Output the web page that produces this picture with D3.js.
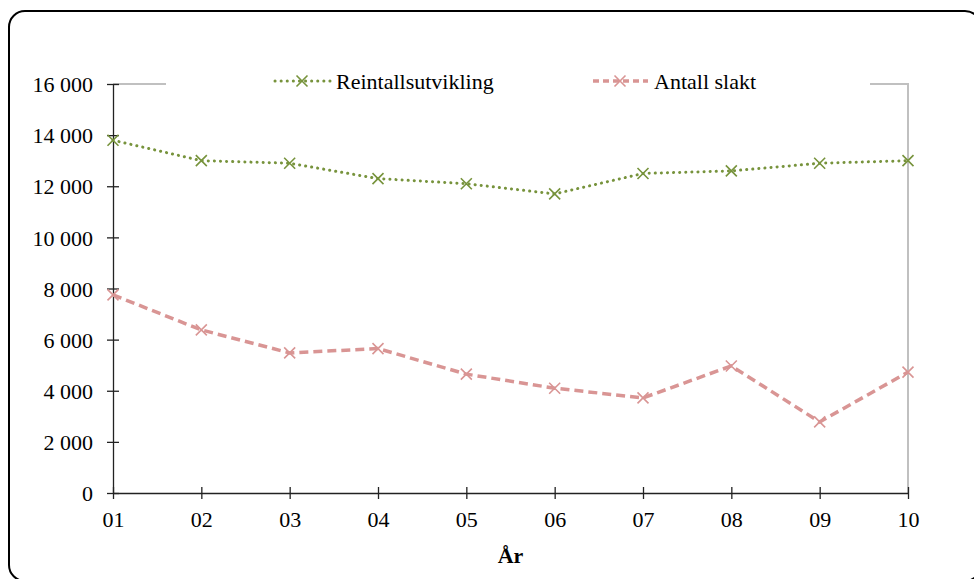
<!DOCTYPE html>
<html>
<head>
<meta charset="utf-8">
<script src="https://cdn.jsdelivr.net/npm/d3@7"></script>
<style>
  body { margin: 0; background: #fff; }
  svg text { font-family: "Liberation Serif", "Times New Roman", serif; fill: #000; }
</style>
</head>
<body>
<svg class="chart" width="974" height="579"></svg>
<script>
const years = ["01", "02", "03", "04", "05", "06", "07", "08", "09", "10"];
const reintall = [13800, 13000, 12900, 12300, 12100, 11700, 12500, 12600, 12900, 13000];
const slakt = [7750, 6380, 5480, 5650, 4650, 4100, 3720, 4970, 2780, 4730];
const yTicks = [0, 2000, 4000, 6000, 8000, 10000, 12000, 14000, 16000];
const seriesNames = ["Reintallsutvikling", "Antall slakt"];

const margin = { top: 84, right: 66, bottom: 86, left: 113 };
const width = 974 - margin.left - margin.right;
const height = 579 - margin.top - margin.bottom;

const svgRoot = d3.select("svg.chart");

// outer rounded frame
svgRoot.append("rect")
  .attr("x", 9).attr("y", 11)
  .attr("width", 972).attr("height", 570)
  .attr("rx", 16)
  .attr("fill", "none")
  .attr("stroke", "#000")
  .attr("stroke-width", 2);

const svg = svgRoot.append("g")
  .attr("transform", "translate(" + margin.left + "," + margin.top + ")");

const x = d3.scalePoint().domain(years).range([0, width]);
const y = d3.scaleLinear().domain([0, 16000]).range([height, 0]);

const fmt = d => d3.format(",")(d).replace(/,/g, " ");

// gray plot frame (top + right)
svg.append("path")
  .attr("d", "M0,0H" + width + "V" + height)
  .attr("fill", "none")
  .attr("stroke", "#c0c0c0")
  .attr("stroke-width", 2);

// y axis
const yAxis = svg.append("g")
  .call(d3.axisLeft(y).tickValues(yTicks).tickFormat(fmt).tickSizeInner(6).tickSizeOuter(0).tickPadding(14));
yAxis.selectAll(".tick line").attr("x2", 6).attr("x1", -6);
yAxis.select(".domain").attr("stroke", "#222").attr("stroke-width", 1.3);
yAxis.selectAll(".tick line").attr("stroke", "#222").attr("stroke-width", 1.3);
yAxis.selectAll("text").style("font-size", "22px").attr("dy", "0.35em");

// x axis
const xAxis = svg.append("g")
  .attr("transform", "translate(0," + height + ")")
  .call(d3.axisBottom(x).tickSizeInner(6).tickSizeOuter(0).tickPadding(12));
xAxis.selectAll(".tick line").attr("y1", -6).attr("y2", 6);
xAxis.select(".domain").attr("stroke", "#222").attr("stroke-width", 1.3);
xAxis.selectAll(".tick line").attr("stroke", "#222").attr("stroke-width", 1.3);
xAxis.selectAll("text").style("font-size", "22px");

svg.append("text")
  .attr("x", x("05") + (x("06") - x("05")) / 2)
  .attr("y", height + 70)
  .attr("text-anchor", "middle")
  .style("font-size", "22px")
  .style("font-weight", "bold")
  .text("År");

const line = d3.line()
  .x((d, i) => x(years[i]))
  .y(d => y(d));

function cross(g, cx, cy, color) {
  const s = 5.5;
  g.append("path")
    .attr("d", `M${cx - s},${cy - s}L${cx + s},${cy + s}M${cx - s},${cy + s}L${cx + s},${cy - s}`)
    .attr("stroke", color)
    .attr("stroke-width", 1.6)
    .attr("fill", "none");
}

const series = [
  { name: seriesNames[0], values: reintall, color: "#77933c", dash: "0.1 6", width: 3, cap: "round" },
  { name: seriesNames[1], values: slakt, color: "#d99594", dash: "9 5", width: 3.5, cap: "butt" }
];

series.forEach(s => {
  svg.append("path")
    .datum(s.values)
    .attr("d", line)
    .attr("fill", "none")
    .attr("stroke", s.color)
    .attr("stroke-width", s.width)
    .attr("stroke-dasharray", s.dash)
    .attr("stroke-linecap", s.cap);
  s.values.forEach((v, i) => cross(svg, x(years[i]), y(v), s.color));
});

// legend (white background hides the gray top line)
const legend = svgRoot.append("g");
legend.append("rect")
  .attr("x", 166).attr("y", 66).attr("width", 704).attr("height", 34)
  .attr("fill", "#fff");

const legendPos = [275, 593];
const legendDash = ["0.1 6", "6 4"];
series.forEach((s, i) => {
  const lx = legendPos[i], ly = 81;
  legend.append("line")
    .attr("x1", lx).attr("x2", lx + 55)
    .attr("y1", ly).attr("y2", ly)
    .attr("stroke", s.color)
    .attr("stroke-width", s.width)
    .attr("stroke-dasharray", legendDash[i])
    .attr("stroke-linecap", s.cap);
  cross(legend, lx + 27, ly, s.color);
  legend.append("text")
    .attr("x", lx + 61)
    .attr("y", ly)
    .attr("dy", "0.35em")
    .style("font-size", "22px")
    .text(s.name);
});
</script>
</body>
</html>
